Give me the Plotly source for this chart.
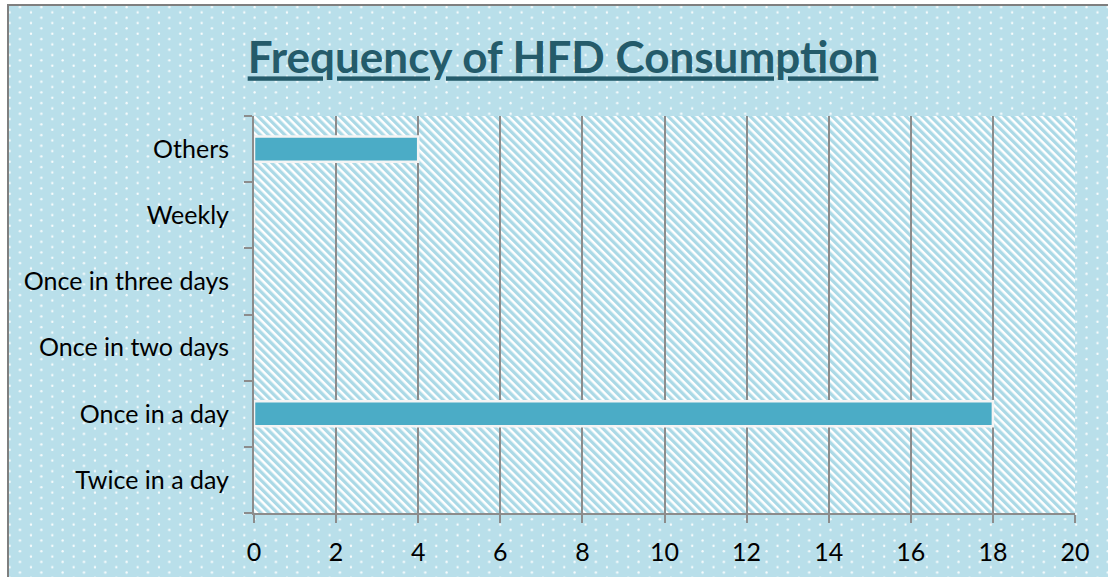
import base64
import plotly.graph_objects as go

categories = ["Twice in a day", "Once in a day", "Once in two days",
              "Once in three days", "Weekly", "Others"]
values = [0, 18, 0, 0, 0, 4]
x_ticks = [0, 2, 4, 6, 8, 10, 12, 14, 16, 18, 20]
title_text = "Frequency of HFD Consumption"

W, H = 1108, 577
L, R, T, B = 254, 1075, 116, 513
PW, PH = R - L, B - T

svg = f'''<svg xmlns="http://www.w3.org/2000/svg" width="{W}" height="{H}" viewBox="0 0 {W} {H}">
<defs>
<pattern id="dots" patternUnits="userSpaceOnUse" width="21.33" height="10.67">
<rect width="21.33" height="10.67" fill="#B9DFEA"/>
<circle cx="20" cy="7" r="1.15" fill="#ffffff" fill-opacity="0.9"/>
<circle cx="9.67" cy="1.67" r="1.15" fill="#ffffff" fill-opacity="0.9"/>
</pattern>
<pattern id="stripes" patternUnits="userSpaceOnUse" width="5.8" height="5.8" patternTransform="rotate(-45)">
<rect width="5.8" height="5.8" fill="#ffffff"/>
<rect width="3.3" height="5.8" fill="#ABD9E6"/>
</pattern>
</defs>
<rect width="{W}" height="{H}" fill="#ffffff"/>
<rect x="8" y="4" width="{W-8}" height="{H-4}" fill="url(#dots)"/>
<rect x="{L}" y="{T}" width="{PW}" height="{PH}" fill="url(#stripes)"/>
<rect x="7" y="4" width="2" height="{H}" fill="#7F7F7F"/>
<rect x="7" y="4" width="{W}" height="2" fill="#7F7F7F"/>
</svg>'''
src = "data:image/svg+xml;base64," + base64.b64encode(svg.encode()).decode()

fig = go.Figure()
fig.add_trace(go.Bar(
    x=values, y=categories, orientation="h",
    marker=dict(color="#4BACC6", line=dict(color="#F4F4F4", width=2.5)),
    width=0.38, hoverinfo="x+y",
))

fig.update_layout(
    width=W, height=H,
    margin=dict(l=L, r=W - R, t=T, b=H - B, pad=0),
    paper_bgcolor="#ffffff",
    plot_bgcolor="rgba(0,0,0,0)",
    showlegend=False,
    font=dict(family="Lato, 'Open Sans', sans-serif", color="#000000"),
    title=dict(
        text=f"<b><u>{title_text}</u></b>",
        font=dict(size=44, color="#245B6A", family="Lato, 'Open Sans', sans-serif"),
        x=563 / W, xref="container", xanchor="center",
        y=1 - 58 / H, yref="container", yanchor="middle",
    ),
    images=[dict(
        source=src, xref="paper", yref="paper",
        x=-L / PW, y=B / PH, sizex=W / PW, sizey=H / PH,
        xanchor="left", yanchor="top", sizing="stretch", layer="below",
    )],
    xaxis=dict(
        range=[0, 20], tickvals=x_ticks, ticktext=[str(v) for v in x_ticks],
        showgrid=True, gridcolor="#8C8C8C", gridwidth=2,
        showline=True, linecolor="#8C8C8C", linewidth=2,
        ticks="outside", ticklen=8, tickwidth=2, tickcolor="#8C8C8C",
        tickfont=dict(size=25, color="#000000"), ticklabelstandoff=8,
        zeroline=False, fixedrange=True,
    ),
    yaxis=dict(
        categoryorder="array", categoryarray=categories,
        showgrid=False, showline=True, linecolor="#8C8C8C", linewidth=2,
        ticks="outside", ticklen=8, tickwidth=2, tickcolor="#8C8C8C",
        tickson="boundaries",
        tickfont=dict(size=25, color="#000000"), ticklabelstandoff=18,
        fixedrange=True,
    ),
    bargap=0.62,
)

fig.write_html(
    "out.html",
    config={"displayModeBar": False},
    post_script="document.body.style.margin='0';document.body.style.overflow='hidden';",
)
